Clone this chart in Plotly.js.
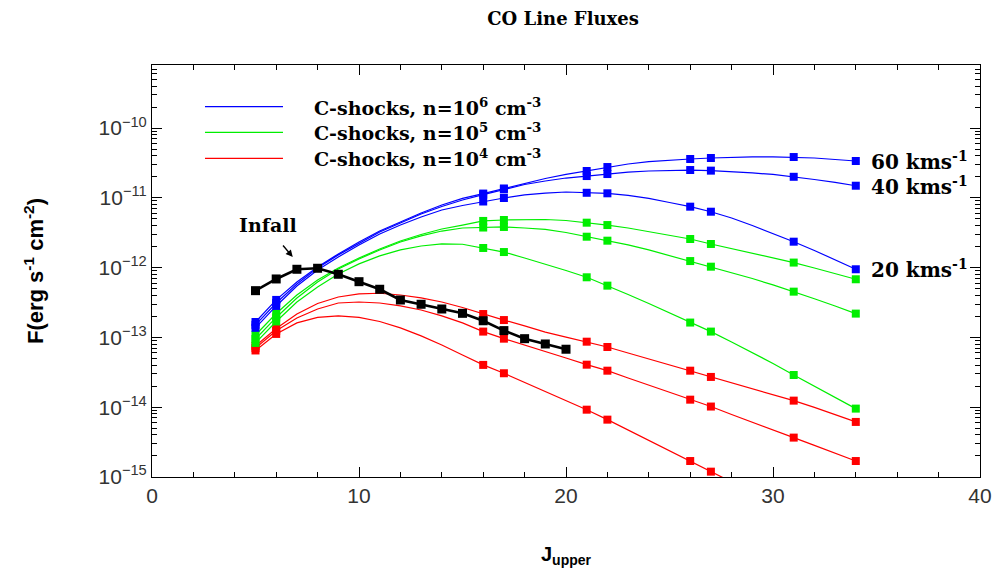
<!DOCTYPE html>
<html><head><meta charset="utf-8">
<script src="https://cdn.plot.ly/plotly-3.0.1.min.js"></script>
<style>html,body{margin:0;padding:0;background:#fff}#chart{width:994px;height:574px}</style>
</head><body><div id="chart"></div>
<script>
// J_upper grid of the model curves
const J = [5,6,7,8,9,10,11,12,13,14,15,16,17,18,19,20,21,22,23,24,25,26,27,28,29,30,31,32,33,34];
// J values where model squares are plotted
const markerJ = [5,6,16,17,21,22,26,27,31,34];

// C-shocks n=1e6 (blue)
const blue60 = [1.66e-13,3.44e-13,6.2e-13,1.02e-12,1.57e-12,2.33e-12,3.34e-12,4.5e-12,6.05e-12,7.9e-12,9.8e-12,1.15e-11,1.36e-11,1.63e-11,1.89e-11,2.16e-11,2.42e-11,2.76e-11,3.05e-11,3.31e-11,3.48e-11,3.6e-11,3.72e-11,3.84e-11,3.87e-11,3.87e-11,3.84e-11,3.72e-11,3.54e-11,3.37e-11];
const blue40 = [1.51e-13,3.11e-13,5.82e-13,9.86e-13,1.52e-12,2.25e-12,3.24e-12,4.36e-12,5.86e-12,7.5e-12,9.29e-12,1.11e-11,1.32e-11,1.55e-11,1.74e-11,1.92e-11,2.05e-11,2.19e-11,2.34e-11,2.42e-11,2.48e-11,2.5e-11,2.45e-11,2.38e-11,2.27e-11,2.16e-11,2.0e-11,1.83e-11,1.66e-11,1.49e-11];
const blue20 = [1.37e-13,2.82e-13,5.45e-13,9.25e-13,1.42e-12,2.11e-12,3.03e-12,4.07e-12,5.31e-12,6.68e-12,7.76e-12,8.85e-12,9.93e-12,1.1e-11,1.17e-11,1.21e-11,1.18e-11,1.16e-11,1.08e-11,9.8e-12,8.57e-12,7.46e-12,6.32e-12,5.14e-12,4.01e-12,3.08e-12,2.35e-12,1.76e-12,1.29e-12,9.46e-13];
// C-shocks n=1e5 (green)
const green60 = [1.08e-13,2.2e-13,4.05e-13,6.64e-13,9.86e-13,1.37e-12,1.85e-12,2.4e-12,2.98e-12,3.57e-12,4.07e-12,4.66e-12,4.81e-12,4.89e-12,4.89e-12,4.73e-12,4.4e-12,4.07e-12,3.69e-12,3.29e-12,2.93e-12,2.57e-12,2.18e-12,1.88e-12,1.62e-12,1.39e-12,1.18e-12,9.86e-13,8.22e-13,6.8e-13];
const green40 = [9.48e-14,1.93e-13,3.67e-13,6.2e-13,9.55e-13,1.33e-12,1.79e-12,2.33e-12,2.84e-12,3.34e-12,3.69e-12,3.75e-12,3.82e-12,3.69e-12,3.52e-12,3.18e-12,2.77e-12,2.43e-12,2.11e-12,1.79e-12,1.49e-12,1.24e-12,1.03e-12,8.51e-13,6.98e-13,5.64e-13,4.52e-13,3.58e-13,2.82e-13,2.19e-13];
const green20 = [8.32e-14,1.69e-13,3.21e-13,5.27e-13,8.09e-13,1.13e-12,1.47e-12,1.79e-12,2.04e-12,2.18e-12,2.16e-12,1.91e-12,1.67e-12,1.37e-12,1.13e-12,9.09e-13,7.26e-13,5.51e-13,4.12e-13,3.06e-13,2.24e-13,1.63e-13,1.21e-13,8.59e-14,6.08e-14,4.23e-14,2.89e-14,2.01e-14,1.38e-14,9.53e-15];
// C-shocks n=1e4 (red)
const red60 = [7.53e-14,1.34e-13,2.16e-13,3.06e-13,3.79e-13,4.19e-13,4.29e-13,4.05e-13,3.67e-13,3.21e-13,2.68e-13,2.16e-13,1.77e-13,1.46e-13,1.19e-13,1.01e-13,8.67e-14,7.28e-14,5.97e-14,4.91e-14,4.03e-14,3.33e-14,2.71e-14,2.22e-14,1.82e-14,1.5e-14,1.24e-14,9.91e-15,7.85e-15,6.14e-15];
const red40 = [7.05e-14,1.24e-13,1.9e-13,2.55e-13,3.11e-13,3.21e-13,3.11e-13,2.82e-13,2.47e-13,2.03e-13,1.61e-13,1.21e-13,9.58e-14,7.78e-14,6.28e-14,5.07e-14,4.06e-14,3.33e-14,2.62e-14,2.08e-14,1.63e-14,1.28e-14,1.02e-14,7.85e-15,6.14e-15,4.71e-15,3.66e-15,2.83e-15,2.21e-15,1.69e-15];
const red20 = [6.49e-14,1.12e-13,1.61e-13,1.93e-13,2.03e-13,1.93e-13,1.69e-13,1.37e-13,1.05e-13,7.78e-14,5.6e-14,4.03e-14,3.06e-14,2.26e-14,1.68e-14,1.25e-14,9.2e-15,6.62e-15,4.71e-15,3.39e-15,2.4e-15,1.69e-15,1.19e-15,8.47e-16,5.9e-16,4.1e-16,2.86e-16,1.99e-16,1.38e-16,9.6e-17];
// Infall model (black)
const infallJ = [5,6,7,8,9,10,11,12,13,14,15,16,17,18,19,20];
const infallF = [4.67e-13,6.87e-13,9.46e-13,9.78e-13,8.02e-13,6.28e-13,4.89e-13,3.43e-13,2.98e-13,2.55e-13,2.21e-13,1.73e-13,1.25e-13,9.58e-14,8.04e-14,6.76e-14];

const legendLabels = ['C-shocks, n=10<sup>6</sup> cm<sup>-3</sup>','C-shocks, n=10<sup>5</sup> cm<sup>-3</sup>','C-shocks, n=10<sup>4</sup> cm<sup>-3</sup>'];
const speedLabels = ['60 kms<sup>-1</sup>','40 kms<sup>-1</sup>','20 kms<sup>-1</sup>'];
const yTickVals = [1e-15,1e-14,1e-13,1e-12,1e-11,1e-10];
const yTickText = ['10<sup>−15</sup>','10<sup>−14</sup>','10<sup>−13</sup>','10<sup>−12</sup>','10<sup>−11</sup>','10<sup>−10</sup>'];

const BLUE='#0000ff', GREEN='#00ee00', RED='#ff0000';
const groups = [
  {color: RED, series:[red60, red40, red20]},
  {color: GREEN, series:[green60, green40, green20]},
  {color: BLUE, series:[blue60, blue40, blue20]}
];

const traces = [];
groups.forEach(g => {
  g.series.forEach(s => {
    traces.push({x: J, y: s, mode:'lines', type:'scatter', line:{color:g.color, width:1.2}, showlegend:false, hoverinfo:'skip'});
  });
  g.series.forEach(s => {
    const mx = [], my = [];
    J.forEach((j,i) => { if (markerJ.includes(j)) { mx.push(j); my.push(s[i]); } });
    traces.push({x: mx, y: my, mode:'markers', type:'scatter', marker:{symbol:'square', size:8, color:g.color, line:{width:0}}, showlegend:false});
  });
});
traces.push({x: infallJ, y: infallF, mode:'lines+markers', type:'scatter', line:{color:'#000', width:2.6}, marker:{symbol:'square', size:9, color:'#000'}, showlegend:false});

const SERIF = '"DejaVu Serif", serif';
const SANS = '"Liberation Sans", sans-serif';
const annotations = [];
const shapes = [];
const legendRows = [0.8988, 0.8367, 0.7735];
[BLUE, GREEN, RED].forEach((c, i) => {
  shapes.push({type:'line', xref:'paper', yref:'paper', x0:0.064, x1:0.1582, y0:legendRows[i], y1:legendRows[i], line:{color:c, width:1.2}});
  annotations.push({xref:'paper', yref:'paper', x:0.1932, y:legendRows[i], xanchor:'left', yanchor:'middle', showarrow:false, text:'<b>'+legendLabels[i]+'</b>', font:{family:SERIF, size:19, color:'#000'}});
});
[blue60, blue40, blue20].forEach((s, i) => {
  annotations.push({xref:'x', yref:'y', x:34.65, y:Math.log10(s[s.length-1]), xanchor:'left', yanchor:'middle', showarrow:false, text:'<b>'+speedLabels[i]+'</b>', font:{family:SERIF, size:20, color:'#000'}});
});
annotations.push({xref:'x', yref:'y', x:5.61, y:-11.39, showarrow:false, text:'<b>Infall</b>', font:{family:SERIF, size:19, color:'#000'}});
annotations.push({xref:'x', yref:'y', x:6.8, y:-11.848, ax:-11, ay:-13, showarrow:true, text:'', arrowhead:2, arrowsize:1, arrowwidth:1.4, arrowcolor:'#000'});

const tickFont = {family:SANS, size:21, color:'#333'};
const layout = {
  width:994, height:574,
  margin:{l:152, r:14, t:65, b:97},
  paper_bgcolor:'#fff', plot_bgcolor:'#fff',
  title:{text:'<b>CO Line Fluxes</b>', font:{family:SERIF, size:18, color:'#000'}, x:0.5665, xanchor:'center', y:0.968, yanchor:'middle'},
  xaxis:{range:[0,40], dtick:10, tick0:0, ticks:'inside', ticklen:10, tickwidth:1, tickcolor:'#000',
    minor:{dtick:2, ticks:'inside', ticklen:5, tickcolor:'#000'},
    showline:true, linecolor:'#000', linewidth:1, mirror:'allticks', showgrid:false, zeroline:false,
    tickfont:tickFont, title:{text:'<b>J<sub>upper</sub></b>', font:{family:SANS, size:20, color:'#000'}, standoff:40}},
  yaxis:{type:'log', range:[-15.001, Math.log10(8e-10)], tickvals:yTickVals, ticktext:yTickText,
    ticks:'inside', ticklen:10, tickwidth:1, tickcolor:'#000',
    minor:{dtick:'D1', ticks:'inside', ticklen:5, tickcolor:'#000'},
    showline:true, linecolor:'#000', linewidth:1, mirror:'allticks', showgrid:false, zeroline:false,
    tickfont:tickFont, title:{text:'<b>F(erg s<sup>-1</sup> cm<sup>-2</sup>)</b>', font:{family:SANS, size:22, color:'#000'}, standoff:48}},
  annotations: annotations,
  shapes: shapes,
  showlegend:false
};
Plotly.newPlot('chart', traces, layout, {displayModeBar:false, staticPlot:true});
</script></body></html>
